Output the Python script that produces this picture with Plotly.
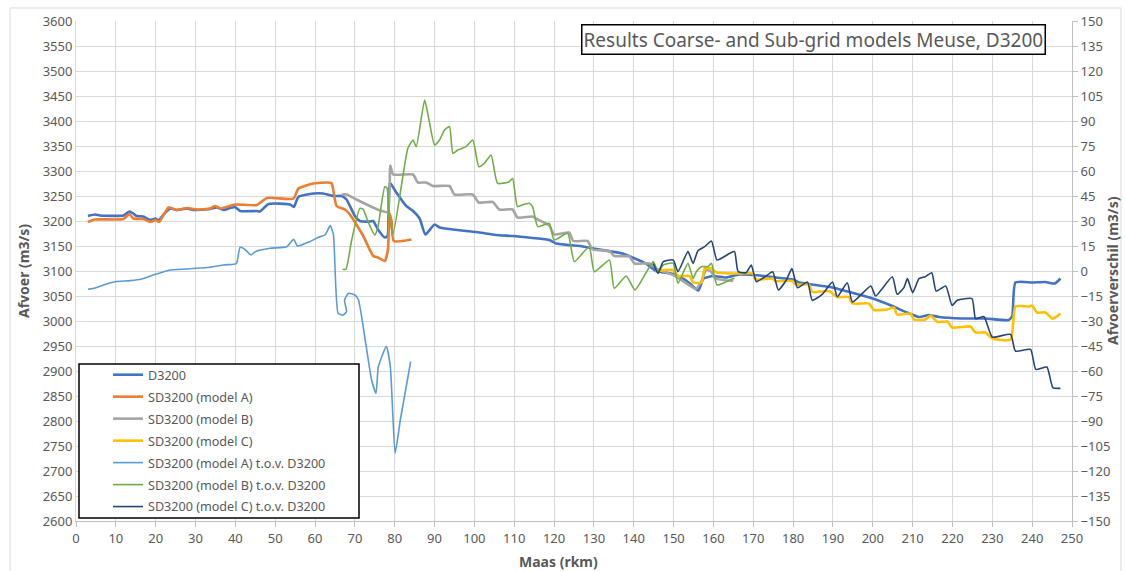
import plotly.graph_objs as go

d3200_km = [3, 4.8, 6, 11.9, 13.4, 14.4, 15.2, 16.9, 18.6, 20, 20.7, 21.9, 23.6, 25.3, 27.8, 29.5, 33.6, 35.3, 37,
            39.9, 41.2, 45.4, 46.2, 48.3, 53.7, 54.7, 55.8, 59.6, 62, 64.6, 66.7, 67.9, 70, 71.25, 73.75, 74.6, 75.8,
            77.5, 78.2, 78.75, 80.4, 82.9, 84.6, 86.25, 87.7, 90, 91.25, 94.6, 97.9, 101.25, 105.4, 109.6, 114.6,
            118.8, 120.5, 127.2, 131.4, 137.2, 139.7, 143, 145.6, 150.4, 153.8, 156.2, 157.5, 160, 163.2, 166.5,
            171.6, 175.7, 179.9, 181.5, 186.5, 189.9, 193.2, 197.4, 200.7, 204.9, 208.2, 211.6, 214.1, 216.6, 222.4,
            228.3, 234.1, 235, 235.8, 240, 243.3, 245.7, 247.1]
d3200_q = [3210, 3213, 3211, 3211, 3219, 3215, 3210, 3209, 3202, 3205, 3201, 3212, 3225, 3222, 3225, 3222, 3224,
           3227, 3222, 3228, 3220, 3220, 3219, 3234, 3233, 3228, 3248, 3255, 3255, 3250, 3250, 3243, 3210, 3200,
           3199, 3200, 3183, 3167, 3170, 3277, 3257, 3230, 3220, 3205, 3173, 3193, 3187, 3183, 3180, 3177, 3172,
           3170, 3166, 3162, 3155, 3149, 3143, 3135, 3127, 3115, 3100, 3093, 3077, 3061, 3085, 3090, 3087, 3093,
           3091, 3087, 3083, 3077, 3071, 3067, 3060, 3051, 3043, 3030, 3018, 3008, 3012, 3008, 3005, 3005, 3002,
           3010, 3077, 3077, 3078, 3075, 3085]

model_a_km = [3, 4.8, 11.9, 13.4, 14.4, 16.9, 18.6, 20, 20.9, 23.2, 25.3, 27.8, 30.3, 33.6, 34.9, 36.2, 39.9, 45.4,
              47.9, 54.6, 55.8, 59.6, 63.3, 64.2, 65.4, 67.5, 68.75, 72.1, 74.6, 75.8, 77.5, 78.3, 78.7, 79.2, 79.75,
              84.2]
model_a_q = [3198, 3203, 3204, 3214, 3205, 3204, 3198, 3202, 3198, 3227, 3222, 3226, 3223, 3225, 3230, 3225, 3233,
             3232, 3246, 3245, 3265, 3275, 3277, 3275, 3230, 3223, 3213, 3170, 3130, 3127, 3120, 3143, 3215, 3200,
             3160, 3163]

model_b_km = [66.7, 67.9, 70.4, 73.75, 76.7, 78.3, 78.9, 79.6, 84.6, 85.8, 87.9, 89.6, 93.75, 95, 99.6, 101.1, 104.6,
              106.25, 109.6, 110.8, 114.6, 115.4, 118.8, 120, 123.8, 124.8, 128.4, 129.7, 133.9, 135.1, 138.9, 140.2,
              143.9, 145.6, 150.4, 154.2, 155.6, 157, 158.2, 159.5, 160.5, 165]
model_b_q = [3253, 3253, 3243, 3230, 3220, 3218, 3311, 3293, 3293, 3277, 3277, 3270, 3270, 3253, 3253, 3237, 3238,
             3223, 3223, 3207, 3209, 3205, 3191, 3173, 3177, 3160, 3160, 3143, 3140, 3130, 3129, 3115, 3115, 3105,
             3090, 3070, 3064, 3080, 3103, 3098, 3085, 3080]

model_c_km = [145.4, 149.9, 151.1, 154, 154.9, 157, 157.8, 159.5, 160.8, 165, 166.5, 169.9, 170.7, 174.9, 175.5,
              179.8, 180.7, 184, 184.8, 189, 191.1, 194, 194.9, 199, 200.3, 203.6, 205.3, 206.1, 209.5, 210.3, 213.2,
              214.5, 216.2, 218.7, 219.9, 224.5, 225.8, 228.3, 230, 234.6, 235.8, 239.2, 240, 241.2, 243.3, 245,
              245.8, 247.1]
model_c_q = [3100, 3102, 3090, 3090, 3077, 3077, 3105, 3105, 3097, 3095, 3095, 3095, 3083, 3085, 3080, 3080, 3073,
             3073, 3058, 3060, 3048, 3048, 3035, 3035, 3022, 3023, 3027, 3013, 3015, 3003, 3003, 3011, 2998, 2999,
             2987, 2989, 2977, 2977, 2965, 2963, 3029, 3029, 3031, 3017, 3017, 3005, 3007, 3015]

# verschillen t.o.v. D3200 (rechter as)
diff_a_km = [3, 4.8, 6.9, 9.8, 13.6, 16.5, 19.4, 23.6, 27.8, 33.6, 37, 39.5, 40.3, 41.2, 42.4, 43.9, 45, 48.7, 52.9,
             54.6, 55.6, 58.7, 60.8, 62.5, 63.8, 64.6, 65.8, 67, 67.9, 67.4, 68.4, 70, 70.9, 72.6, 74.2, 75.3, 75.9,
             77.9, 78.9, 80.1, 81.4, 84]
diff_a_q = [-11, -10.2, -8.4, -6.4, -5.8, -4.8, -2.4, 0.6, 1.2, 2.2, 3.6, 4, 4.5, 14.2, 13, 9.6, 11.6, 13.6, 14.6, 19,
            15, 17.6, 20.2, 21.6, 27.2, 22, -25.4, -26.4, -24.4, -17.4, -13.4, -14.4, -17.4, -41.4, -65.4, -73.4,
            -57.4, -45.4, -57.4, -109.4, -89.4, -54.4]

diff_b_km = [66.9, 67.75, 69.2, 71.25, 72.1, 73.3, 75, 75.8, 77.5, 78.1, 78.6, 79.6, 83.3, 84.6, 85.4, 87.5, 88.3, 90,
             91.25, 92.5, 93.75, 94.6, 95.8, 97.9, 99.6, 101.1, 102.5, 104.2, 105.8, 108.75, 109.6, 110.8, 112,
             113.75, 114.6, 115.9, 118.8, 120, 123.4, 125.1, 128.8, 130.1, 133.9, 135.1, 138.1, 140.3, 143, 144.9,
             146.1, 147.4, 149.9, 151.1, 153.6, 154.9, 155.7, 157, 158.6, 159.5, 160.9, 164.1, 165.3]
diff_b_q = [1, 1, 18.6, 37.6, 37, 29.6, 21.6, 26.6, 50.6, 49.6, 31.6, 22.6, 73.6, 78.6, 74.6, 102.6, 94.6, 75.6,
            78.6, 84.6, 86.6, 70.6, 72.6, 74.6, 78.6, 62.6, 64.6, 69.6, 52.6, 53.6, 55.6, 38.6, 39.6, 40.6, 38.6,
            26.6, 28.6, 18.6, 22.6, 5.6, 14.6, -0.4, 6.6, -10.4, -3, -11.4, -1.4, 5.6, -0.4, 3.6, 4.6, -7.4, 4.6,
            -4.4, -0.4, 2.6, 2.6, 4.6, -8.4, -5.4, -4.4]

diff_c_km = [144.9, 146.1, 147.4, 149.9, 151.1, 153.6, 154.9, 156.1, 157.8, 159.5, 160.9, 164.1, 165.3, 166.2, 168.2,
             169.5, 170.8, 174.1, 174.9, 176.3, 178.3, 179.7, 181.1, 183.6, 184.8, 187.3, 189.9, 191.1, 193.6, 194.9,
             199.5, 200.7, 204.9, 206.1, 207.8, 208.7, 210, 211.6, 213.2, 214.8, 215.9, 218.3, 219.9, 221.2, 224.9,
             225.8, 227.9, 230, 234.6, 235.8, 239.6, 240.9, 243.7, 245.2, 247.1]
diff_c_q = [4.6, -1.4, 5.6, 6.6, -0.4, 11.6, 4.6, 12.2, 14.6, 18, 6.6, 10.6, 11.6, -0.4, -1, 3.6, -6.4, -1.4, -0.4,
            -11.4, -5.4, 1.4, -10, -6.6, -17.6, -14, -6.6, -15.4, -7, -18.6, -9, -15, -3.4, -14, -10, -4.6, -13,
            -4.6, -3.4, -1, -12, -9, -20.6, -17.6, -16.6, -28.6, -27.4, -39.6, -38, -48, -47, -59, -57.6, -70, -70.4]

FONT = 'Noto Sans'
GREY = '#595959'

# plotgebied in pixels
L, R, T, B = 76, 1072, 21, 521
W, H = 1125, 571


def px(x):
    return (x - L) / (R - L)


def py(y):
    return 1 - (y - T) / (B - T)


def main():
    series = [
        (d3200_km, d3200_q, 'D3200', '#4472C4', 2.6, 'y'),
        (model_a_km, model_a_q, 'SD3200 (model A)', '#ED7D31', 2.6, 'y'),
        (model_b_km, model_b_q, 'SD3200 (model B)', '#A5A5A5', 2.6, 'y'),
        (model_c_km, model_c_q, 'SD3200 (model C)', '#FFC000', 2.6, 'y'),
        (diff_a_km, diff_a_q, 'SD3200 (model A) t.o.v. D3200', '#5B9BD5', 1.6, 'y2'),
        (diff_b_km, diff_b_q, 'SD3200 (model B) t.o.v. D3200', '#70AD47', 1.6, 'y2'),
        (diff_c_km, diff_c_q, 'SD3200 (model C) t.o.v. D3200', '#264478', 1.6, 'y2'),
    ]

    traces = []
    for i, (xs, ys, name, color, width, axis) in enumerate(series):
        traces.append(go.Scatter(
            x=xs, y=ys, name=name, yaxis=axis, mode='lines',
            line=dict(color=color, width=width, shape='spline', smoothing=0.5),
            legendgroup='g%d' % i, legendrank=i + 1,
        ))

    tick_font = dict(family=FONT, size=13, color=GREY)
    axis_font = dict(family=FONT, size=14, color=GREY)

    layout = go.Layout(
        width=W, height=H,
        margin=dict(l=L, r=W - R, t=T, b=H - B),
        paper_bgcolor='white', plot_bgcolor='white',
        font=dict(family=FONT, color=GREY),
        xaxis=dict(range=[0, 250], dtick=10, showgrid=True, gridcolor='#d9d9d9', gridwidth=1,
                   zeroline=False, showline=True, linecolor='#bfbfbf', ticks='outside', ticklen=5,
                   tickcolor='#bfbfbf', tickfont=tick_font),
        yaxis=dict(range=[2600, 3600], dtick=50, showgrid=True, gridcolor='#d9d9d9', gridwidth=1,
                   zeroline=False, showline=True, linecolor='#d9d9d9', ticks='', tickfont=tick_font),
        yaxis2=dict(range=[-150, 150], dtick=15, overlaying='y', side='right', showgrid=False,
                    zeroline=False, showline=True, linecolor='#bfbfbf', ticks='outside', ticklen=5,
                    tickcolor='#bfbfbf', tickfont=tick_font),
        showlegend=True,
        legend=dict(x=px(108), y=py(360), xanchor='left', yanchor='top', bgcolor='rgba(0,0,0,0)',
                    borderwidth=0, font=dict(family=FONT, size=12.6, color=GREY),
                    traceorder='grouped', tracegroupgap=2.6),
        shapes=[
            dict(type='rect', xref='paper', yref='paper', x0=px(79), x1=px(359), y0=py(518), y1=py(364),
                 line=dict(color='black', width=1.5), fillcolor='white', layer='above'),
            dict(type='rect', xref='paper', yref='paper', x0=px(10), x1=px(1121), y0=py(575), y1=py(8),
                 line=dict(color='#d9d9d9', width=1), layer='below'),
        ],
        annotations=[
            dict(text='Results Coarse- and Sub-grid models Meuse, D3200', xref='paper', yref='paper',
                 x=px(813), y=py(39), xanchor='center', yanchor='middle', showarrow=False,
                 font=dict(family=FONT, size=19, color=GREY), bgcolor='white', bordercolor='black',
                 borderwidth=1.5, borderpad=1),
            dict(text='<b>Afvoer (m3/s)</b>', xref='paper', yref='paper', x=px(23), y=py(271),
                 xanchor='center', yanchor='middle', textangle=-90, showarrow=False, font=axis_font),
            dict(text='<b>Afvoerverschil (m3/s)</b>', xref='paper', yref='paper', x=px(1112), y=py(271),
                 xanchor='center', yanchor='middle', textangle=-90, showarrow=False, font=axis_font),
            dict(text='<b>Maas (rkm)</b>', xref='paper', yref='paper', x=px(558), y=py(561),
                 xanchor='center', yanchor='middle', showarrow=False, font=axis_font),
        ],
    )

    fig = go.Figure(data=traces, layout=layout)
    # body-marge weg zodat de figuur precies in het venster past
    fig.write_html('out.html', config={'displayModeBar': False},
                   post_script="document.body.style.margin='0';")


if __name__ == '__main__':
    main()
